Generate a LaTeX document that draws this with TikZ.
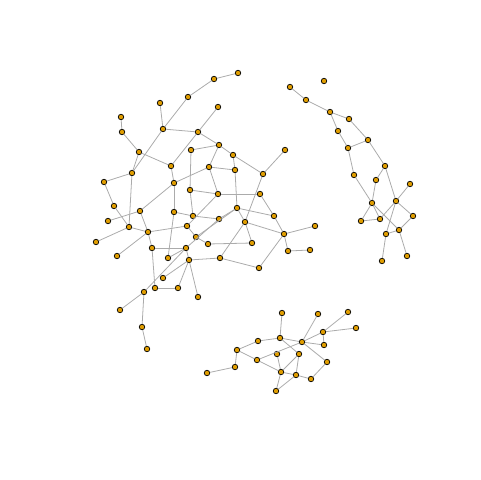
\documentclass[tikz,border=0pt]{standalone}
\usepackage{tikz}

\definecolor{vtxfill}{RGB}{225,158,0}

\begin{document}
\begin{tikzpicture}[
  x=0.02cm, y=-0.02cm,
  vtx/.style={draw=black, fill=vtxfill, circle, line width=0.4pt,
              minimum size=0.11cm, inner sep=0pt},
  link/.style={draw=black!33, line width=0.45pt},
]
\useasboundingbox (0,0) rectangle (480,480);

%% ═══ MAIN COMPONENT ═══════════════════════════════════════════════════
\foreach \n/\x/\y in {a1/238/73, a2/214/79, a3/188/97, a4/160/103, a5/218/107,
    a6/121/117, a7/122/132, a8/163/129, a9/198/132, a10/139/152, a11/219/145,
    a12/191/150, a13/233/155, a14/171/166, a15/209/167, a16/235/170,
    a17/132/173, a18/104/182, a19/174/183, a20/190/190, a21/218/194,
    a22/263/174, a23/285/150, a24/260/194, a25/114/206, a26/140/211,
    a27/174/212, a28/237/208, a29/193/216, a30/219/219, a31/245/222,
    a32/274/216, a33/108/221, a34/129/227, a35/148/232, a36/187/226,
    a37/196/237, a38/208/244, a39/252/243, a40/284/234, a41/315/226,
    a42/96/242, a43/117/256, a44/152/248, a45/168/258, a46/186/248,
    a47/189/260, a48/220/258, a49/288/251, a50/310/250, a51/259/268,
    a52/163/278, a53/144/292, a54/155/288, a55/178/288, a56/198/297,
    a57/120/310, a58/142/327, a59/147/349}
  \node[vtx] (\n) at (\x,\y) {};

% links of the main component
\foreach \u/\v in {a1/a2, a2/a3, a3/a8, a4/a8, a8/a9, a5/a9, a6/a7, a7/a10,
    a8/a17, a10/a14, a9/a14, a9/a11, a12/a11, a11/a13, a13/a22, a22/a23,
    a11/a15, a13/a16, a15/a16, a16/a28, a15/a21, a20/a21, a21/a24, a24/a32,
    a22/a31, a17/a18, a18/a25, a25/a34, a17/a34, a14/a19, a19/a26, a26/a33,
    a19/a27, a12/a20, a20/a29, a27/a29, a29/a30, a28/a30, a28/a32, a28/a31,
    a31/a39, a31/a40, a32/a40, a40/a41, a40/a49, a49/a50, a38/a39, a48/a51,
    a51/a40, a37/a28, a48/a31, a34/a42, a34/a35, a35/a36, a35/a44, a26/a35,
    a43/a35, a44/a46, a44/a54, a45/a46, a27/a45, a46/a47, a47/a48, a36/a37,
    a37/a38, a36/a21, a46/a30, a53/a46, a52/a47, a54/a55, a55/a47, a56/a47,
    a53/a57, a53/a58, a58/a59, a15/a19, a10/a17}
  \draw[link] (\u) -- (\v);

%% ═══ RIGHT COMPONENT ══════════════════════════════════════════════════
\foreach \n/\x/\y in {b1/290/87, b2/324/81, b3/306/100, b4/330/112,
    b5/349/119, b6/338/131, b7/368/140, b8/348/148, b9/385/166,
    b10/354/175, b11/376/180, b12/410/184, b13/372/203, b14/396/201,
    b15/361/221, b16/380/219, b17/413/216, b18/386/234, b19/399/230,
    b20/382/261, b21/407/256}
  \node[vtx] (\n) at (\x,\y) {};

\foreach \u/\v in {b1/b3, b3/b4, b4/b5, b4/b6, b6/b8, b5/b7, b7/b8, b7/b9,
    b8/b10, b9/b11, b9/b14, b10/b13, b11/b13, b13/b15, b15/b16, b13/b16,
    b13/b19, b16/b14, b14/b12, b14/b17, b17/b19, b19/b18, b14/b18,
    b18/b20, b19/b21}
  \draw[link] (\u) -- (\v);

%% ═══ BOTTOM COMPONENT ═════════════════════════════════════════════════
\foreach \n/\x/\y in {c1/282/313, c2/318/314, c3/348/312, c4/356/328,
    c5/323/332, c6/280/338, c7/258/341, c8/302/342, c9/324/345,
    c10/237/350, c11/277/354, c12/299/354, c13/327/362, c14/257/360,
    c15/235/367, c16/207/373, c17/281/372, c18/296/375, c19/311/379,
    c20/276/391}
  \node[vtx] (\n) at (\x,\y) {};

\foreach \u/\v in {c1/c6, c2/c8, c3/c5, c4/c5, c5/c8, c5/c9, c6/c8, c6/c7,
    c7/c10, c10/c15, c10/c14, c15/c16, c14/c8, c14/c17, c11/c17, c6/c12,
    c8/c9, c12/c17, c12/c18, c17/c18, c18/c19, c19/c13, c13/c8, c17/c20,
    c20/c18}
  \draw[link] (\u) -- (\v);

\end{tikzpicture}
\end{document}
